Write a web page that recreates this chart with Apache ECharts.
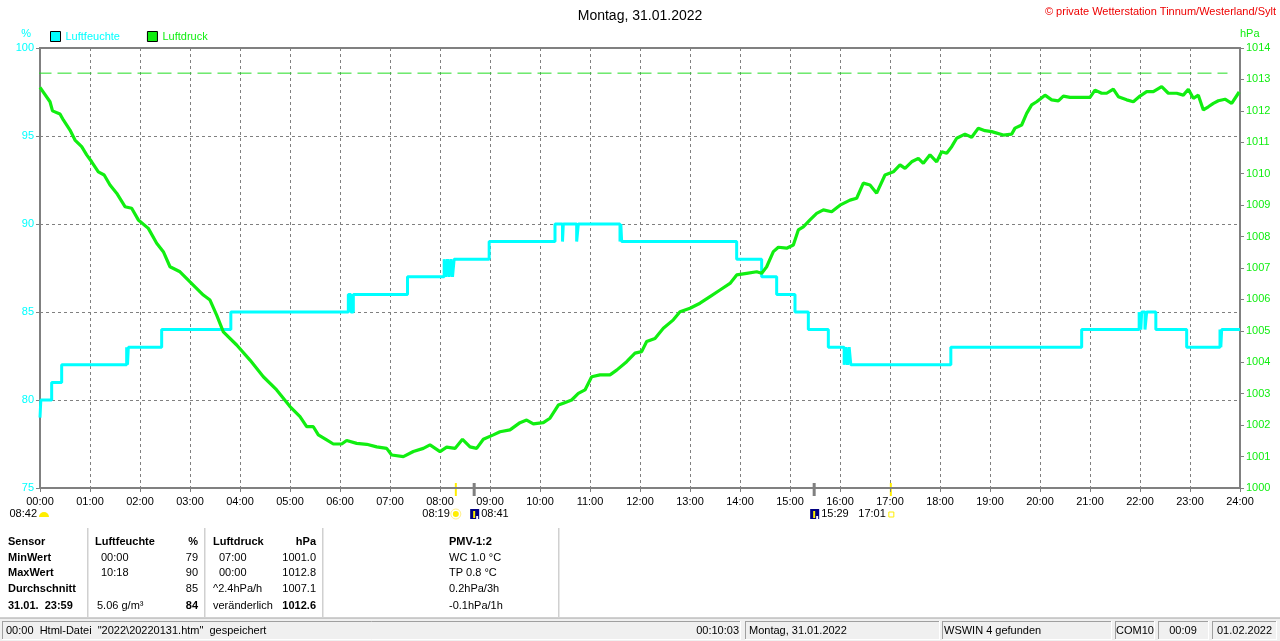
<!DOCTYPE html>
<html><head><meta charset="utf-8">
<script src="https://cdn.jsdelivr.net/npm/echarts@6/dist/echarts.min.js"></script>
<style>html,body{margin:0;padding:0;background:#fff}#c{width:1280px;height:641px}</style>
</head><body><div id="c"></div><script>
// ---- data ----
const humTimes=[0,1,14,26,104,105,106,146,229,370,373,376,441,485,487,489,491,493,495,497,539,618,627,628,644,646,696,697,698,836,866,884,906,922,946,965,967,969,971,973,1093,1250,1319,1321,1322,1326,1328,1339,1376,1416,1417,1418,1440];
const humValues=[79,80,81,82,83,82,83,84,85,86,85,86,87,88,87,88,87,88,87,88,89,90,89,90,89,90,89,90,89,88,87,86,85,84,83,82,83,82,83,82,83,84,85,84,85,84,85,84,83,84,83,84,84];
const presTimes=[0,12,15,24,28,36,42,50,56,62,70,77,84,92,102,110,118,130,140,148,156,168,180,196,204,212,220,236,252,268,284,300,312,320,328,334,344,352,362,368,380,392,404,416,422,436,448,460,468,480,488,498,507,516,524,532,544,552,564,576,584,592,604,612,622,628,638,646,654,662,672,684,692,704,714,722,728,738,748,760,768,780,792,804,816,828,836,848,860,866,872,880,886,896,904,910,916,924,932,940,950,960,972,980,988,996,1004,1014,1024,1032,1038,1046,1054,1060,1068,1076,1082,1088,1094,1100,1110,1118,1126,1134,1142,1156,1166,1170,1178,1184,1190,1196,1206,1214,1222,1228,1236,1248,1260,1266,1274,1280,1288,1294,1304,1312,1320,1328,1336,1346,1354,1364,1372,1378,1384,1390,1396,1402,1408,1414,1422,1430,1439];
const presValues=[1012.75,1012.29,1012.0,1011.9,1011.71,1011.39,1011.07,1010.86,1010.6,1010.38,1010.06,1009.96,1009.64,1009.38,1008.95,1008.9,1008.53,1008.26,1007.79,1007.52,1007.04,1006.88,1006.56,1006.14,1005.98,1005.5,1004.97,1004.55,1004.07,1003.54,1003.12,1002.59,1002.27,1001.95,1001.95,1001.69,1001.53,1001.4,1001.4,1001.51,1001.42,1001.39,1001.31,1001.26,1001.05,1001.0,1001.16,1001.26,1001.37,1001.16,1001.3,1001.26,1001.55,1001.31,1001.26,1001.55,1001.69,1001.79,1001.85,1002.08,1002.16,1002.04,1002.08,1002.22,1002.64,1002.7,1002.8,1003.01,1003.12,1003.54,1003.6,1003.6,1003.75,1004.02,1004.29,1004.34,1004.66,1004.76,1005.08,1005.35,1005.61,1005.72,1005.88,1006.09,1006.3,1006.51,1006.78,1006.83,1006.88,1006.83,1007.04,1007.52,1007.66,1007.63,1007.73,1008.21,1008.31,1008.53,1008.74,1008.85,1008.79,1009.0,1009.16,1009.22,1009.7,1009.64,1009.38,1009.96,1010.06,1010.28,1010.17,1010.38,1010.49,1010.33,1010.6,1010.38,1010.7,1010.65,1010.86,1011.13,1011.26,1011.16,1011.45,1011.37,1011.34,1011.23,1011.26,1011.45,1011.55,1011.92,1012.19,1012.29,1012.5,1012.35,1012.32,1012.47,1012.43,1012.43,1012.43,1012.66,1012.56,1012.56,1012.69,1012.45,1012.35,1012.29,1012.47,1012.61,1012.61,1012.77,1012.56,1012.56,1012.5,1012.69,1012.4,1012.5,1012.03,1012.13,1012.24,1012.32,1012.37,1012.24,1012.6];
const pressureRefLine=1013.2;
const refLineTimes=[-3,1425];
const eventTimes=[499,521,929,1021];            // 08:19 sunrise, 08:41 moon, 15:29 moon, 17:01 sunset
const eventLabels=['08:19','08:41','15:29','17:01'];
const dayLengthLabel='08:42';
const tableHeader=['Sensor','Luftfeuchte','%','Luftdruck','hPa','PMV-1:2'];
const tableRowNames=['MinWert','MaxWert','Durchschnitt','31.01.  23:59'];
const tableHumTime=['00:00','10:18','','5.06 g/m³'];
const tableHumVal=['79','90','85','84'];
const tablePresTime=['07:00','00:00','^2.4hPa/h','veränderlich'];
const tablePresVal=['1001.0','1012.8','1007.1','1012.6'];
const tablePmv=['WC 1.0 °C','TP 0.8 °C','0.2hPa/3h','-0.1hPa/1h'];
const statusTexts=['00:00  Html-Datei  "2022\\20220131.htm"  gespeichert','00:10:03','Montag, 31.01.2022','WSWIN 4 gefunden','COM10','00:09','01.02.2022'];

const CYAN='#00ffff', GREEN='#11ee11', GRAY='#808080';
const FONT='"Liberation Sans", Arial, sans-serif';
const pad=n=>String(n).padStart(2,'0');

const chart=echarts.init(document.getElementById('c'),null,{renderer:'canvas'});
chart.setOption({
  animation:false,
  textStyle:{fontFamily:FONT},
  title:{text:'Montag, 31.01.2022',left:'center',top:4,textStyle:{fontSize:14,fontWeight:'normal',color:'#000',fontFamily:FONT}},
  legend:{left:50,top:31,padding:0,itemWidth:10,itemHeight:10,itemGap:27,icon:'rect',
    itemStyle:{borderColor:'#000',borderWidth:1},
    textStyle:{fontSize:11,fontFamily:FONT},
    data:[{name:'Luftfeuchte',textStyle:{color:CYAN}},{name:'Luftdruck',textStyle:{color:GREEN}}]},
  grid:{left:40,right:40,top:48,bottom:153,show:true,borderColor:GRAY,borderWidth:2},
  xAxis:{type:'value',min:0,max:1440,interval:60,
    axisLine:{show:true,lineStyle:{color:GRAY,width:2}},
    axisTick:{show:true,length:4,lineStyle:{color:GRAY,width:1}},
    axisLabel:{color:'#000',fontSize:11,margin:8,showMinLabel:true,showMaxLabel:true,formatter:v=>pad(v/60)+':00'},
    splitLine:{show:true,lineStyle:{color:GRAY,type:[3,3],width:1}}},
  yAxis:[
    {type:'value',min:75,max:100,interval:5,position:'left',name:'%',nameLocation:'end',nameGap:9,
      nameTextStyle:{color:CYAN,fontSize:11,align:'right',padding:[0,9,0,0]},
      axisLine:{show:true,lineStyle:{color:GRAY,width:2}},
      axisTick:{show:true,length:4,lineStyle:{color:GRAY}},
      axisLabel:{color:CYAN,fontSize:11,margin:6,formatter:v=>String(v)},
      splitLine:{show:true,lineStyle:{color:GRAY,type:[3,3],width:1}}},
    {type:'value',min:1000,max:1014,interval:1,position:'right',name:'hPa',nameLocation:'end',nameGap:9,
      nameTextStyle:{color:GREEN,fontSize:11,align:'left',padding:[0,0,0,0]},
      axisLine:{show:true,lineStyle:{color:GRAY,width:2}},
      axisTick:{show:true,length:4,lineStyle:{color:GRAY}},
      axisLabel:{color:GREEN,fontSize:11,margin:6,formatter:v=>String(v)},
      splitLine:{show:false}}
  ],
  series:[
    {name:'ref',type:'line',yAxisIndex:1,symbol:'none',silent:true,clip:false,z:2,
      lineStyle:{color:'#22dd22',width:1,type:[14,6]},
      data:refLineTimes.map(t=>[t,pressureRefLine])},
    {name:'Luftfeuchte',type:'line',yAxisIndex:0,step:'end',symbol:'none',
      itemStyle:{color:CYAN},lineStyle:{color:CYAN,width:3},z:3,
      data:humTimes.map((t,i)=>[t,humValues[i]])},
    {name:'Luftdruck',type:'line',yAxisIndex:1,symbol:'none',
      itemStyle:{color:GREEN},lineStyle:{color:GREEN,width:3.2},z:4,
      data:presTimes.map((t,i)=>[t,presValues[i]])}
  ]
});

// ---- decorations: event markers, table, status bar ----
const xp=m=>chart.convertToPixel({xAxisIndex:0},m);
const yBase=chart.convertToPixel({yAxisIndex:0},75);
const g=[];
const txt=(x,y,s,o={})=>g.push({type:'text',x,y,silent:true,style:Object.assign({text:s,fill:'#000',font:(o.bold?'bold ':'')+(o.size||11)+'px '+FONT,textAlign:o.align||'left',textVerticalAlign:'middle'},o.style||{})});
const line=(x1,y1,x2,y2,c,w)=>g.push({type:'line',silent:true,shape:{x1,y1,x2,y2},style:{stroke:c,lineWidth:w}});
const rect=(x,y,w,h,st)=>g.push({type:'rect',silent:true,shape:{x,y,width:w,height:h},style:st});

const ex=eventTimes.map(xp);
line(ex[0],yBase-5,ex[0],yBase+8,'#ffee00',2);
line(ex[1],yBase-5,ex[1],yBase+8,GRAY,3);
line(ex[2],yBase-5,ex[2],yBase+8,GRAY,3);
line(ex[3],yBase-5,ex[3],yBase+8,'#ffee00',2);
const ry=yBase+26;
const x0=xp(0);
txt(x0-3,ry,dayLengthLabel,{align:'right'});
g.push({type:'sector',silent:true,shape:{cx:x0+4,cy:ry+3,r:5,r0:0,startAngle:Math.PI,endAngle:2*Math.PI},style:{fill:'#ffee00'}});
txt(ex[0]-6,ry,eventLabels[0],{align:'right'});
g.push({type:'circle',silent:true,shape:{cx:ex[0],cy:ry,r:3},style:{fill:'#ffee00'}});
g.push({type:'circle',silent:true,shape:{cx:ex[0],cy:ry,r:5},style:{fill:null,stroke:'#ffee88',lineWidth:1}});
[1,2].forEach(i=>{
  rect(ex[i]-4,ry-5,9,10,{fill:'#000080'});
  line(ex[i],ry-3,ex[i],ry+4,'#ffee00',2);
  rect(ex[i]+2,ry+2,2,3,{fill:'#ffffff'});
  txt(ex[i]+7,ry,eventLabels[i]);
});
txt(ex[3]-5,ry,eventLabels[3],{align:'right'});
rect(ex[3]-2,ry-2,5,5,{fill:null,stroke:'#ffee00',lineWidth:1});

// table
const rows=[542,558,573,589,606];
[88,205,323,559].forEach(x=>{line(x,528,x,617,'#a0a0a0',1);line(x+1,528,x+1,617,'#ffffff',1);});
txt(8,rows[0],tableHeader[0],{bold:true});
txt(95,rows[0],tableHeader[1],{bold:true});
txt(198,rows[0],tableHeader[2],{bold:true,align:'right'});
txt(213,rows[0],tableHeader[3],{bold:true});
txt(316,rows[0],tableHeader[4],{bold:true,align:'right'});
txt(449,rows[0],tableHeader[5],{bold:true});
tableRowNames.forEach((n,i)=>{
  const y=rows[i+1], last=i===3;
  txt(8,y,n,{bold:true});
  txt(last?97:101,y,tableHumTime[i]);
  txt(198,y,tableHumVal[i],{align:'right',bold:last});
  txt(i>=2?213:219,y,tablePresTime[i]);
  txt(316,y,tablePresVal[i],{align:'right',bold:last});
  txt(449,y,tablePmv[i]);
});

// status bar
rect(0,618,1280,23,{fill:'#f0f0f0'});
line(0,618,1280,618,'#a0a0a0',1);
const panels=[[2,741],[745,940],[942,1112],[1115,1155],[1158,1209],[1212,1277]];
panels.forEach(([a,b])=>{
  line(a,621.5,b,621.5,'#a0a0a0',1);line(a+0.5,621,a+0.5,640,'#a0a0a0',1);
  line(a,639.5,b,639.5,'#ffffff',1);line(b-0.5,621,b-0.5,640,'#ffffff',1);
});
const sy=631;
txt(6,sy,statusTexts[0]);
txt(739,sy,statusTexts[1],{align:'right'});
txt(749,sy,statusTexts[2]);
txt(944,sy,statusTexts[3]);
txt(1116,sy,statusTexts[4]);
txt(1183,sy,statusTexts[5],{align:'center'});
txt(1217,sy,statusTexts[6]);
txt(1276,12,'© private Wetterstation Tinnum/Westerland/Sylt',{align:'right',style:{fill:'#ee0000'}});

chart.setOption({graphic:g});
</script></body></html>
